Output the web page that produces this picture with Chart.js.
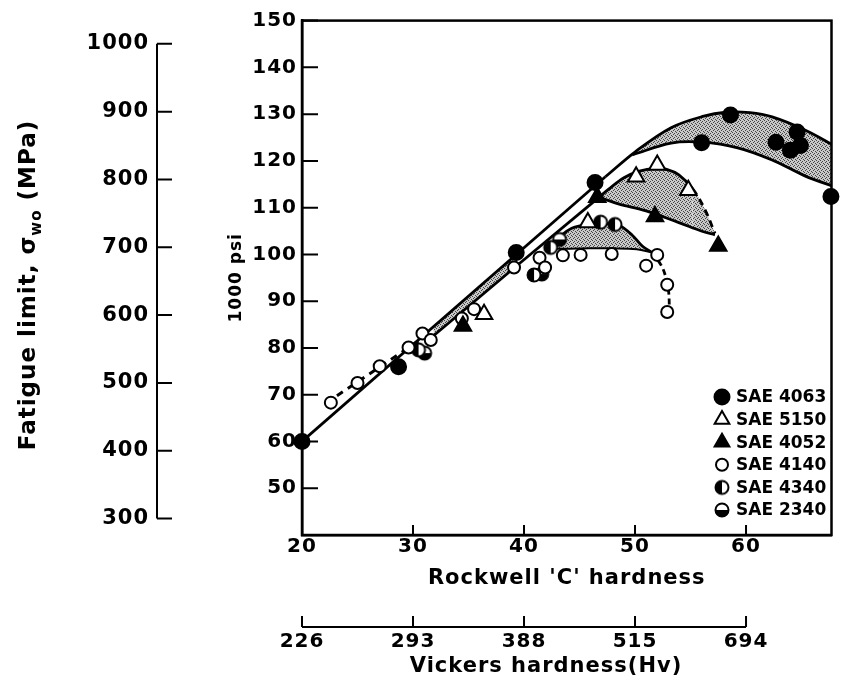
<!DOCTYPE html>
<html>
<head>
<meta charset="utf-8">
<script src="https://cdn.jsdelivr.net/npm/chart.js@4.4.1/dist/chart.umd.min.js"></script>
<style>
  html, body { margin: 0; padding: 0; background: #fff; }
  canvas { display: block; }
</style>
</head>
<body>
<canvas id="chart" width="843" height="680"></canvas>
<script>
// axis ticks
const rockwellTicks = [20, 30, 40, 50, 60];
const vickersLabels = ['226', '293', '388', '515', '694'];
const psiTicks = [50, 60, 70, 80, 90, 100, 110, 120, 130, 140, 150];
const mpaTicks = [300, 400, 500, 600, 700, 800, 900, 1000];
const MPA_PER_KSI = 6.895;

const seriesNames = ['SAE 4063', 'SAE 5150', 'SAE 4052', 'SAE 4140', 'SAE 4340', 'SAE 2340'];

// measured points (Rockwell C, 1000 psi)
const sae4063X = [20, 28.7, 39.3, 46.4, 56.0, 58.6, 62.7, 64.0, 64.6, 64.9, 67.65];
const sae4063Y = [60, 76, 100.4, 115.4, 123.9, 129.8, 124, 122.3, 126.2, 123.3, 112.4];
const sae5150X = [36.4, 45.75, 50.1, 52.0, 54.8];
const sae5150Y = [87.2, 106.8, 116.6, 119.1, 113.7];
const sae4052X = [34.5, 46.6, 51.8, 57.5];
const sae4052Y = [84.7, 112.2, 108.1, 101.8];
const sae4140X = [22.6, 25.0, 27.0, 29.6, 30.85, 31.6, 34.4, 35.5, 39.1, 41.4, 41.9, 43.5, 45.1, 47.9, 51.0, 52.0, 52.9, 52.9];
const sae4140Y = [68.3, 72.5, 76.1, 80.1, 83.1, 81.7, 86.3, 88.3, 97.2, 99.3, 97.2, 99.8, 99.9, 100.1, 97.6, 99.9, 93.5, 87.7];
const sae4340X = [30.5, 40.9, 42.4, 46.9, 48.2];
const sae4340Y = [79.6, 95.6, 101.5, 106.9, 106.4];
const sae2340X = [31.05, 41.6, 43.2];
const sae2340Y = [78.9, 95.8, 103.2];

// trend lines and scatter bands
const upperLineX = [20, 47.33];
const upperLineY = [60, 116.6];
const band4063TopX = [47.33, 50.05, 53.25, 56.1, 58.2, 60.35, 62.35, 65.3, 68.15];
const band4063TopY = [116.6, 122.0, 127.1, 129.5, 130.4, 130.3, 129.4, 126.6, 123.0];
const band4063BotX = [49.75, 53.25, 56.0, 59.25, 62.35, 65.3, 68.15];
const band4063BotY = [121.3, 123.8, 124.0, 122.8, 120.2, 116.8, 114.3];
const stripX = [31.85, 39.45];
const stripY = [82.6, 97.8];
const lowerLineX = [39.45, 46.75];
const lowerLineY = [97.8, 112.2];
const band5150TopX = [46.75, 47.6, 49.0, 50.4, 51.8, 52.85, 53.95, 55.2, 56.3, 57.2];
const band5150TopY = [112.2, 113.9, 116.4, 117.8, 118.4, 118.2, 117.0, 114.0, 109.6, 104.5];
const band5150BotX = [46.75, 48.5, 51.0, 53.95, 56.1, 57.2];
const band5150BotY = [112.2, 110.8, 109.3, 106.8, 104.9, 104.2];
const band4140TopX = [42.2, 43.1, 44.3, 45.85, 47.35, 48.6, 49.75, 50.65, 51.55];
const band4140TopY = [101.2, 103.5, 105.6, 106.5, 106.6, 106.2, 104.1, 101.8, 100.4];
const band4140BotX = [42.2, 43.7, 45.85, 48.0, 50.15, 51.55];
const band4140BotY = [101.2, 101.2, 101.3, 101.3, 101.1, 100.4];
const tail4140X = [51.55, 52.5, 53.0, 53.1];
const tail4140Y = [100.4, 97.0, 92.5, 88.5];
const dashLeftX = [23.15, 30.95];
const dashLeftY = [69.8, 82.2];

const FONT = 'DejaVu Sans';
const pts = (xs, ys) => xs.map((x, i) => ({x: x, y: ys[i]}));

function halfCircle(r, mode) {
    const s = Math.ceil(r * 2 + 4);
    const c = document.createElement('canvas');
    c.width = c.height = s;
    const g = c.getContext('2d');
    const m = s / 2;
    g.fillStyle = '#fff';
    g.beginPath(); g.arc(m, m, r, 0, 2 * Math.PI); g.fill();
    g.fillStyle = '#000';
    g.beginPath();
    if (mode === 'left') g.arc(m, m, r, Math.PI / 2, Math.PI * 1.5);
    else g.arc(m, m, r, 0, Math.PI);
    g.closePath(); g.fill();
    g.lineWidth = 2; g.strokeStyle = '#000';
    g.beginPath(); g.arc(m, m, r - 0.5, 0, 2 * Math.PI); g.stroke();
    return c;
}

const markers = [
    {style: 'circle', radius: 7.5, bg: '#000'},
    {style: 'triangle', radius: 9.5, bg: '#fff'},
    {style: 'triangle', radius: 9.5, bg: '#000'},
    {style: 'circle', radius: 6, bg: '#fff'},
    {style: halfCircle(7, 'left'), radius: 7, bg: '#fff'},
    {style: halfCircle(7, 'bottom'), radius: 7, bg: '#fff'},
];

// stippled grey for the bands
const canvas = document.getElementById('chart');
const pc = document.createElement('canvas');
pc.width = pc.height = 4;
const pg = pc.getContext('2d');
pg.fillStyle = '#c8c8c8'; pg.fillRect(0, 0, 4, 4);
pg.fillStyle = '#444';
[[0, 0], [2, 1], [1, 2], [3, 3]].forEach(p => pg.fillRect(p[0], p[1], 1, 1));
const stipple = canvas.getContext('2d').createPattern(pc, 'repeat');

const seriesX = [sae4063X, sae5150X, sae4052X, sae4140X, sae4340X, sae2340X];
const seriesY = [sae4063Y, sae5150Y, sae4052Y, sae4140Y, sae4340Y, sae2340Y];

const datasets = seriesNames.map((name, i) => ({
    label: name,
    data: pts(seriesX[i], seriesY[i]),
    showLine: false,
    pointStyle: markers[i].style,
    pointRadius: markers[i].radius,
    pointBackgroundColor: markers[i].bg,
    pointBorderColor: '#000',
    pointBorderWidth: 2,
    clip: false,
    order: 0,
}));

function curve(xs, ys, extra) {
    return Object.assign({
        data: pts(xs, ys),
        borderColor: '#000',
        borderWidth: 2.8,
        pointRadius: 0,
        tension: 0.35,
        fill: false,
        backgroundColor: stipple,
        order: 1,
    }, extra);
}

datasets.push(
    curve(upperLineX, upperLineY, {tension: 0}),                    // 6
    curve(band4063TopX, band4063TopY, {fill: 8}),                   // 7
    curve(band4063BotX, band4063BotY),                              // 8
    curve(stripX, stripY, {tension: 0, fill: 6}),                   // 9
    curve(lowerLineX, lowerLineY, {tension: 0}),                    // 10
    curve(band5150TopX, band5150TopY, {fill: 12,
        segment: {borderDash: ctx => ctx.p0DataIndex >= 7 ? [7, 5] : undefined}}), // 11
    curve(band5150BotX, band5150BotY),                              // 12
    curve(band4140TopX, band4140TopY, {fill: 14}),                  // 13
    curve(band4140BotX, band4140BotY, {borderWidth: 2}),            // 14
    curve(tail4140X, tail4140Y, {borderDash: [6, 4]}),              // 15
    curve(dashLeftX, dashLeftY, {tension: 0, borderDash: [7, 6], borderWidth: 3}) // 16
);

const tickList = list => scale => { scale.ticks = list.map(v => ({value: v})); };

function rotatedTitle(ctx, parts, cx, cy) {
    ctx.save();
    ctx.translate(cx, cy);
    ctx.rotate(-Math.PI / 2);
    ctx.textBaseline = 'middle';
    ctx.textAlign = 'left';
    let total = 0;
    parts.forEach(p => { ctx.font = p[1]; total += ctx.measureText(p[0]).width; });
    let px = -total / 2;
    parts.forEach(p => {
        ctx.font = p[1];
        ctx.fillText(p[0], px, p[2]);
        px += ctx.measureText(p[0]).width;
    });
    ctx.restore();
}

const decor = {
    id: 'decor',
    beforeDraw(chart) {
        chart.ctx.letterSpacing = '1px';
    },
    beforeDatasetsDraw(chart) {
        const {ctx, chartArea: a, scales} = chart;
        ctx.save();
        ctx.strokeStyle = '#000';
        ctx.lineWidth = 2.5;
        ctx.strokeRect(a.left, a.top, a.right - a.left, a.bottom - a.top);
        ctx.lineWidth = 2;
        ctx.beginPath();
        psiTicks.forEach(v => {
            const y = scales.y.getPixelForValue(v);
            ctx.moveTo(a.left, y); ctx.lineTo(a.left + 16, y);
        });
        rockwellTicks.forEach(v => {
            const x = scales.x.getPixelForValue(v);
            ctx.moveTo(x, a.bottom); ctx.lineTo(x, a.bottom - 10);
        });
        // MPa axis
        const y2 = scales.y2;
        const ax = y2.right;
        ctx.moveTo(ax, y2.getPixelForValue(mpaTicks[0]));
        ctx.lineTo(ax, y2.getPixelForValue(mpaTicks[mpaTicks.length - 1]));
        mpaTicks.forEach(v => {
            const y = y2.getPixelForValue(v);
            ctx.moveTo(ax, y); ctx.lineTo(ax + 15, y);
        });
        // Vickers axis
        const vy = 627;
        ctx.moveTo(scales.x2.getPixelForValue(rockwellTicks[0]), vy);
        ctx.lineTo(scales.x2.getPixelForValue(rockwellTicks[rockwellTicks.length - 1]), vy);
        rockwellTicks.forEach(v => {
            const x = scales.x2.getPixelForValue(v);
            ctx.moveTo(x, vy); ctx.lineTo(x, vy - 11);
        });
        ctx.stroke();
        ctx.restore();
    },
    afterDraw(chart) {
        const ctx = chart.ctx;
        ctx.save();
        ctx.fillStyle = '#000';
        const big = 'bold 23px "' + FONT + '"';
        const small = 'bold 15px "' + FONT + '"';
        rotatedTitle(ctx, [['Fatigue limit, σ', big, 0], ['wo', small, 8], [' (MPa)', big, 0]], 29, 285);

        // Vickers title
        ctx.font = 'bold 21px "' + FONT + '"';
        ctx.textAlign = 'center';
        ctx.textBaseline = 'middle';
        ctx.fillText('Vickers hardness(Hv)', 546, 667);

        // legend
        ctx.letterSpacing = '0px';
        ctx.font = 'bold 17px "' + FONT + '"';
        ctx.textAlign = 'left';
        const mx = 722, tx = 736, y0 = 397, dy = 22.6;
        seriesNames.forEach((name, i) => {
            const y = y0 + i * dy;
            const mk = markers[i];
            ctx.lineWidth = 2;
            ctx.strokeStyle = '#000';
            if (typeof mk.style !== 'string') {
                ctx.drawImage(mk.style, mx - mk.style.width / 2, y - mk.style.height / 2);
            } else {
                ctx.beginPath();
                if (mk.style === 'circle') {
                    ctx.arc(mx, y, mk.radius, 0, 2 * Math.PI);
                } else {
                    const r = mk.radius - 1;
                    ctx.moveTo(mx, y - r);
                    ctx.lineTo(mx + r * 0.866, y + r / 2);
                    ctx.lineTo(mx - r * 0.866, y + r / 2);
                    ctx.closePath();
                }
                ctx.fillStyle = mk.bg;
                ctx.fill();
                ctx.stroke();
            }
            ctx.fillStyle = '#000';
            ctx.fillText(name, tx, y + 1);
        });
        ctx.restore();
    }
};

Chart.defaults.font.family = FONT;
Chart.defaults.font.weight = 'bold';
Chart.defaults.font.size = 20;
Chart.defaults.color = '#000';

new Chart(canvas, {
    type: 'line',
    data: {datasets: datasets},
    options: {
        responsive: false,
        animation: false,
        layout: {padding: {top: 16, right: 2, left: 0, bottom: 0}},
        plugins: {
            legend: {display: false},
            tooltip: {enabled: false},
            filler: {drawTime: 'beforeDatasetsDraw'},
        },
        scales: {
            x: {
                type: 'linear', position: 'bottom', weight: 0,
                min: 20, max: 67.7,
                afterBuildTicks: tickList(rockwellTicks),
                afterFit: s => { s.height = 62; },
                grid: {display: false, drawTicks: false},
                border: {display: true, color: '#000', width: 2.5},
                ticks: {padding: 0, autoSkip: false, maxRotation: 0, font: {size: 20}},
                title: {display: true, text: "Rockwell 'C' hardness", font: {size: 21}, padding: {top: 0, bottom: 6}},
            },
            x2: {
                type: 'linear', position: 'bottom', weight: 1,
                min: 20, max: 67.7,
                afterBuildTicks: tickList(rockwellTicks),
                afterFit: s => { s.height = 83; },
                grid: {display: false, drawTicks: false},
                border: {display: false},
                ticks: {padding: 33, autoSkip: false, maxRotation: 0, font: {size: 20},
                    callback: v => vickersLabels[rockwellTicks.indexOf(v)]},
            },
            y: {
                type: 'linear', position: 'left', weight: 0,
                min: 40, max: 150,
                afterBuildTicks: tickList(psiTicks),
                afterFit: s => { s.width = 145; },
                grid: {display: false, drawTicks: false},
                border: {display: true, color: '#000', width: 2.5},
                ticks: {padding: 5, autoSkip: false, font: {size: 20}},
                title: {display: true, text: '1000 psi', font: {size: 17}, padding: {top: 69, bottom: 0}},
            },
            y2: {
                type: 'linear', position: 'left', weight: 1,
                min: 40 * MPA_PER_KSI, max: 150 * MPA_PER_KSI,
                afterBuildTicks: tickList(mpaTicks),
                afterFit: s => { s.width = 157; },
                grid: {display: false, drawTicks: false},
                border: {display: false},
                ticks: {padding: 8, autoSkip: false, font: {size: 21}, callback: v => String(v)},
            },
        },
    },
    plugins: [decor],
});
</script>
</body>
</html>
